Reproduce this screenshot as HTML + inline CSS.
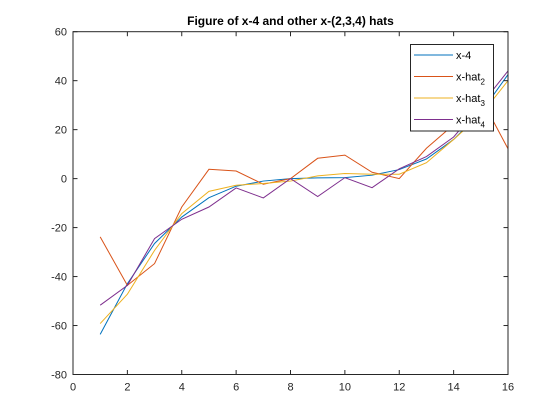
<!DOCTYPE html>
<html><head><meta charset="utf-8"><style>
body{margin:0;background:#fff;}
svg{display:block;font-family:"Liberation Sans",sans-serif;}
</style></head><body>
<svg id="chart" width="560" height="420">
<rect width="560" height="420" fill="#fff"/>
<g id="lines"></g>
<g id="axes"></g>
</svg>
<script>
const xs=[1,2,3,4,5,6,7,8,9,10,11,12,13,14,15,16];
const seriesX4=[-63.6,-42.9,-26.5,-15.7,-7.8,-3.1,-1,0,0.3,0.4,1.4,3.7,8,16,27,42.5];
const seriesHat2=[-23.8,-43.6,-34.7,-11.6,3.8,3.1,-2.3,0,8.3,9.6,2.6,0,12.4,22,33,12.2];
const seriesHat3=[-59.2,-47.2,-29.3,-14.3,-5.2,-2.7,-2,-1,1.1,2.1,1.8,1.8,6.5,16,26,40];
const seriesHat4=[-51.7,-43.6,-24.5,-16.6,-11.6,-3.8,-7.9,0,-7.3,0.4,-3.7,4,9,17,30,44];
const xTicks=[0,2,4,6,8,10,12,14,16];
const yTicks=[-80,-60,-40,-20,0,20,40,60];
const L=73,R=508,T=31.7,B=374.5;
const sx=v=>L+(v-0)/16*(R-L);
const sy=v=>B-(v+80)/140*(B-T);
const NS="http://www.w3.org/2000/svg";
function mk(tag,attrs,parent){const e=document.createElementNS(NS,tag);for(const k in attrs)e.setAttribute(k,attrs[k]);parent.appendChild(e);return e;}
const lines=document.getElementById('lines'),axes=document.getElementById('axes');
const series=[[seriesX4,'#0072bd','series-x-4'],[seriesHat2,'#d95319','series-x-hat2'],[seriesHat3,'#edb120','series-x-hat3'],[seriesHat4,'#7e2f8e','series-x-hat4']];
series.forEach(([d,c,n])=>{
 const p=mk('polyline',{points:d.map((v,i)=>sx(xs[i])+','+sy(v)).join(' '),fill:'none',stroke:c,'stroke-width':1},lines);
 
 
});
const box=mk('rect',{x:L,y:T,width:R-L,height:B-T,fill:'none',stroke:'#262626','stroke-width':1},axes);


xTicks.forEach(t=>{
 const x=sx(t);
 mk('line',{x1:x,x2:x,y1:B,y2:B-4.5,stroke:'#262626'},axes);
 mk('line',{x1:x,x2:x,y1:T,y2:T+4.5,stroke:'#262626'},axes);
 const tx=mk('text',{x:x,y:B+16,'text-anchor':'middle','font-size':11,fill:'#262626'},axes);
 tx.textContent=t;
 
 
});
yTicks.forEach(t=>{
 const y=sy(t);
 mk('line',{x1:L,x2:L+4.5,y1:y,y2:y,stroke:'#262626'},axes);
 mk('line',{x1:R,x2:R-4.5,y1:y,y2:y,stroke:'#262626'},axes);
 const tx=mk('text',{x:L-6,y:y+4,'text-anchor':'end','font-size':11,fill:'#262626'},axes);
 tx.textContent=t;
 
 
});
const title=mk('text',{x:(L+R)/2,y:25,'text-anchor':'middle','font-size':12,'font-weight':'bold',fill:'#000'},axes);
title.textContent='Figure of x-4 and other x-(2,3,4) hats';


const lg=mk('g',{},axes);


mk('rect',{x:410.5,y:44.5,width:83,height:86.5,fill:'#fff',stroke:'#262626'},lg);
const labels=[['x-4',''],['x-hat','2'],['x-hat','3'],['x-hat','4']];
labels.forEach((l,i)=>{
 const y=55+i*21.5;
 mk('line',{x1:414,x2:453,y1:y,y2:y,stroke:series[i][1]},lg);
 const tx=mk('text',{x:456,y:y+4,'font-size':11,fill:'#000'},lg);
 tx.textContent=l[0];
 if(l[1]){const s=mk('tspan',{dy:4,'font-size':8},tx);s.textContent=l[1];}
 
 
});
</script>
</body></html>
